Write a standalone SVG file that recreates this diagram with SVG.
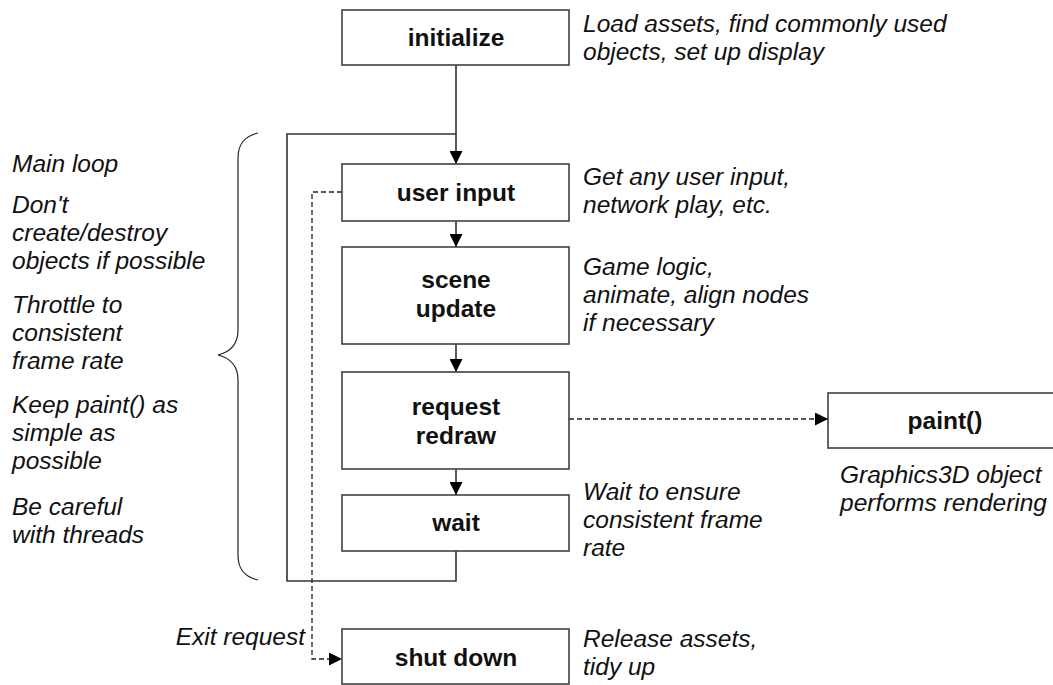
<svg xmlns="http://www.w3.org/2000/svg" width="1053" height="685" viewBox="0 0 1053 685">
<style>
.box{fill:#fff;stroke:#404040;stroke-width:1.6}
.lbl{font-family:"Liberation Sans",Arial,sans-serif;font-size:24.5px;font-weight:bold;fill:#111;text-anchor:middle}
.note{font-family:"Liberation Sans",Arial,sans-serif;font-size:24.5px;font-style:italic;fill:#111}
.ln{fill:none;stroke:#333;stroke-width:1.6}
.dash{fill:none;stroke:#222;stroke-width:1.3;stroke-dasharray:5 3}
.brace{fill:none;stroke:#222;stroke-width:1.2}
</style>
<defs>
<marker id="arr" viewBox="0 0 12 12" refX="12" refY="6" markerWidth="13" markerHeight="13" markerUnits="userSpaceOnUse" orient="auto">
<path d="M0,0 L12,6 L0,12 Z" fill="#000"/>
</marker>
</defs>
<rect width="1053" height="685" fill="#fff"/>

<g id="connectors">
<line class="ln" x1="456" y1="65" x2="456" y2="164" marker-end="url(#arr)"/>
<path class="ln" d="M456,551 V581 H287 V134 H456"/>
<line class="ln" x1="456" y1="221" x2="456" y2="247" marker-end="url(#arr)"/>
<line class="ln" x1="456" y1="344" x2="456" y2="372" marker-end="url(#arr)"/>
<line class="ln" x1="456" y1="469" x2="456" y2="495" marker-end="url(#arr)"/>
<path class="dash" d="M342,192 H312 V659 H342" marker-end="url(#arr)"/>
<line class="dash" x1="569" y1="419" x2="828" y2="419" marker-end="url(#arr)"/>
</g>

<g id="initialize">
<rect class="box" x="342" y="10" width="227" height="55"/>
<text class="lbl" x="456" y="46">initialize</text>
</g>
<g id="user-input">
<rect class="box" x="342" y="164" width="227" height="57"/>
<text class="lbl" x="456" y="201">user input</text>
</g>
<g id="scene-update">
<rect class="box" x="342" y="247" width="227" height="97"/>
<text class="lbl" x="456" y="288">scene</text>
<text class="lbl" x="456" y="317">update</text>
</g>
<g id="request-redraw">
<rect class="box" x="342" y="372" width="227" height="97"/>
<text class="lbl" x="456" y="415">request</text>
<text class="lbl" x="456" y="444">redraw</text>
</g>
<g id="wait">
<rect class="box" x="342" y="495" width="227" height="56"/>
<text class="lbl" x="456" y="531">wait</text>
</g>
<g id="shut-down">
<rect class="box" x="342" y="629" width="227" height="55"/>
<text class="lbl" x="456" y="666">shut down</text>
</g>
<g id="paint">
<rect class="box" x="828" y="393" width="227" height="55"/>
<text class="lbl" x="945" y="429">paint()</text>
</g>

<g id="notes-right">
<text class="note" x="583" y="32">Load assets, find commonly used</text>
<text class="note" x="583" y="60">objects, set up display</text>
<text class="note" x="583" y="185">Get any user input,</text>
<text class="note" x="583" y="213">network play, etc.</text>
<text class="note" x="583" y="275">Game logic,</text>
<text class="note" x="583" y="303">animate, align nodes</text>
<text class="note" x="583" y="331">if necessary</text>
<text class="note" x="583" y="500">Wait to ensure</text>
<text class="note" x="583" y="528">consistent frame</text>
<text class="note" x="583" y="556">rate</text>
<text class="note" x="583" y="647">Release assets,</text>
<text class="note" x="583" y="675">tidy up</text>
<text class="note" x="840" y="483">Graphics3D object</text>
<text class="note" x="840" y="511">performs rendering</text>
<text class="note" x="305" y="645" text-anchor="end">Exit request</text>
</g>

<g id="notes-left">
<text class="note" x="12" y="172">Main loop</text>
<text class="note" x="12" y="213">Don't</text>
<text class="note" x="12" y="241">create/destroy</text>
<text class="note" x="12" y="269">objects if possible</text>
<text class="note" x="12" y="313">Throttle to</text>
<text class="note" x="12" y="341">consistent</text>
<text class="note" x="12" y="369">frame rate</text>
<text class="note" x="12" y="413">Keep paint() as</text>
<text class="note" x="12" y="441">simple as</text>
<text class="note" x="12" y="469">possible</text>
<text class="note" x="12" y="515">Be careful</text>
<text class="note" x="12" y="543">with threads</text>
</g>

<g id="brace">
<path class="brace" d="M258,133 C245,136 238,143 238,158 V330 C238,345 230,352 218,355 C230,358 238,365 238,380 V555 C238,570 245,577 258,580"/>
</g>
</svg>
